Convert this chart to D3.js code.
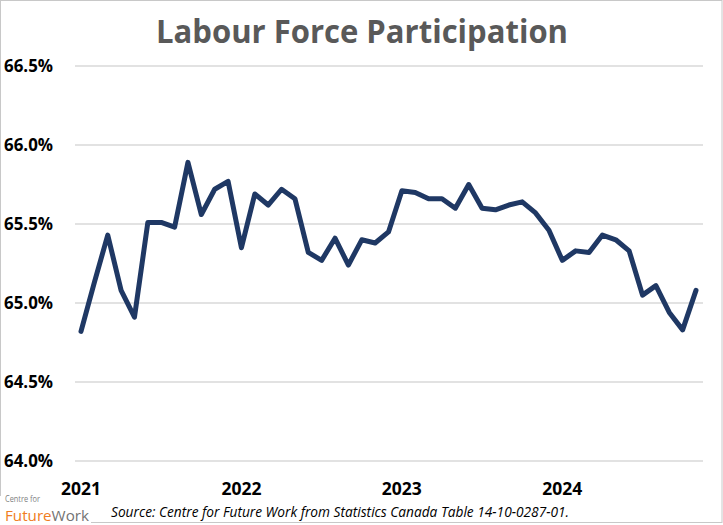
<!DOCTYPE html>
<html>
<head>
<meta charset="utf-8">
<script src="https://cdn.jsdelivr.net/npm/d3@7"></script>
<style>
  body { margin: 0; background: #fff; }
  svg { display: block; font-family: "Open Sans", "Noto Sans", sans-serif; }
</style>
</head>
<body>
<div id="chart"></div>
<script>
// Labour force participation rate, monthly, Jan 2021 - Nov 2024
const startYear = 2021
const participation = [
  64.82, 65.13, 65.43, 65.08, 64.91, 65.51, 65.51, 65.48, 65.89, 65.56, 65.72, 65.77,
  65.35, 65.69, 65.62, 65.72, 65.66, 65.32, 65.27, 65.41, 65.24, 65.40, 65.38, 65.45,
  65.71, 65.70, 65.66, 65.66, 65.60, 65.75, 65.60, 65.59, 65.62, 65.64, 65.57, 65.46,
  65.27, 65.33, 65.32, 65.43, 65.40, 65.33, 65.05, 65.11, 64.94, 64.83, 65.08
]
const yTicks = [64.0, 64.5, 65.0, 65.5, 66.0, 66.5]
const yearLabels = ["2021", "2022", "2023", "2024"]

const width = 723, height = 525

const svg = d3.select("#chart").append("svg")
  .attr("width", width)
  .attr("height", height)

// month index -> x position
const x = d3.scaleLinear()
  .domain([0, participation.length - 1])
  .range([81, 696])

const y = d3.scaleLinear()
  .domain([64, 66.5])
  .range([461, 66])

// outer frame
svg.append("rect")
  .attr("x", 0.5).attr("y", 0.5)
  .attr("width", width - 1.5).attr("height", 522)
  .attr("fill", "none")
  .attr("stroke", "#c8c8c8")

// title
svg.append("text")
  .attr("x", 362).attr("y", 43)
  .attr("text-anchor", "middle")
  .attr("fill", "#595959")
  .attr("font-weight", "bold")
  .attr("font-size", 32)
  .attr("textLength", 412)
  .attr("lengthAdjust", "spacingAndGlyphs")
  .text("Labour Force Participation")

// gridlines
svg.append("g")
  .selectAll("line")
  .data(yTicks)
  .join("line")
  .attr("x1", 75).attr("x2", 703)
  .attr("y1", d => y(d)).attr("y2", d => y(d))
  .attr("stroke", "#d9d9d9")
  .attr("stroke-width", 1.5)

// y axis labels
svg.append("g")
  .selectAll("text")
  .data(yTicks)
  .join("text")
  .attr("x", 4)
  .attr("y", d => y(d) + 6)
  .attr("font-weight", "bold")
  .attr("font-size", 17)
  .attr("fill", "#000")
  .attr("textLength", 49)
  .attr("lengthAdjust", "spacingAndGlyphs")
  .text(d => d.toFixed(1) + "%")

// x axis labels, one per January
svg.append("g")
  .selectAll("text")
  .data(yearLabels)
  .join("text")
  .attr("x", (d, i) => x(i * 12))
  .attr("y", 495)
  .attr("text-anchor", "middle")
  .attr("font-weight", "bold")
  .attr("font-size", 18)
  .attr("fill", "#000")
  .attr("textLength", 40)
  .attr("lengthAdjust", "spacingAndGlyphs")
  .text(d => d)

// the line
const line = d3.line()
  .x((d, i) => x(i))
  .y(d => y(d))

svg.append("path")
  .datum(participation)
  .attr("d", line)
  .attr("fill", "none")
  .attr("stroke", "#1f3864")
  .attr("stroke-width", 5)
  .attr("stroke-linejoin", "round")
  .attr("stroke-linecap", "round")

// logo block (covers frame corner)
svg.append("rect")
  .attr("x", 0).attr("y", 496)
  .attr("width", 91).attr("height", 29)
  .attr("fill", "#fff")

svg.append("text")
  .attr("x", 5).attr("y", 502)
  .attr("font-size", 9)
  .attr("fill", "#7f7f7f")
  .attr("textLength", 35)
  .attr("lengthAdjust", "spacingAndGlyphs")
  .text("Centre for")

const logo = svg.append("text")
  .attr("x", 5).attr("y", 521)
  .attr("font-size", 15)
  .attr("textLength", 84)
  .attr("lengthAdjust", "spacingAndGlyphs")
logo.append("tspan").attr("fill", "#f07d22").text("Future")
logo.append("tspan").attr("fill", "#737373").text("Work")

// source note
svg.append("text")
  .attr("x", 111).attr("y", 517)
  .attr("font-size", 14)
  .attr("font-style", "italic")
  .attr("fill", "#000")
  .attr("textLength", 458)
  .attr("lengthAdjust", "spacingAndGlyphs")
  .text("Source: Centre for Future Work from Statistics Canada Table 14-10-0287-01.")
</script>
</body>
</html>
